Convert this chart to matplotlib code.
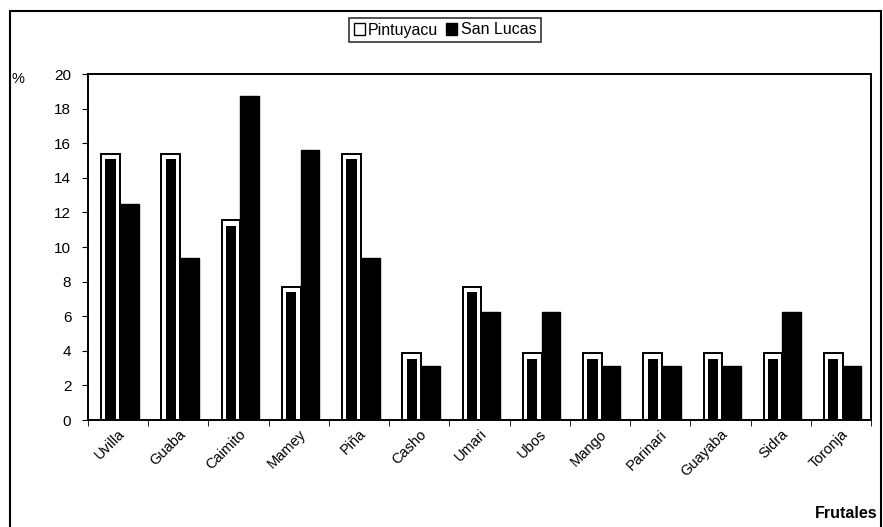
import matplotlib
matplotlib.use("Agg")
import matplotlib.pyplot as plt
import numpy as np
from matplotlib.patches import Rectangle, Patch

plt.rcParams['font.family'] = ['Liberation Sans', 'DejaVu Sans']

frutales = ["Uvilla", "Guaba", "Caimito", "Mamey", "Piña", "Casho", "Umari",
            "Ubos", "Mango", "Parinari", "Guayaba", "Sidra", "Toronja"]
pintuyacu = [15.38, 15.38, 11.54, 7.69, 15.38, 3.85, 7.69,
             3.85, 3.85, 3.85, 3.85, 3.85, 3.85]
san_lucas = [12.5, 9.375, 18.75, 15.625, 9.375, 3.125, 6.25,
             6.25, 3.125, 3.125, 3.125, 6.25, 3.125]
yticks = [0, 2, 4, 6, 8, 10, 12, 14, 16, 18, 20]

fig = plt.figure(figsize=(8.83, 5.27), dpi=100)
ax = fig.add_axes([88 / 883, 1 - 420 / 527, 783 / 883, 346 / 527])

x = np.arange(len(frutales))
w = 0.31
off = 0.03
# Pintuyacu: outlined bar with a dark core
ax.bar(x - w / 2 + off, pintuyacu, w, color="white", edgecolor="black",
       linewidth=1.4, zorder=2)
ax.bar(x - w / 2 + off, np.array(pintuyacu) - 0.3, w * 0.55, color="black",
       zorder=3)
ax.bar(x + w / 2 + off, san_lucas, w, color="black", edgecolor="black",
       linewidth=1, zorder=2)

ax.set_xlim(-0.5, len(frutales) - 0.5)
ax.set_ylim(0, 20)
ax.set_yticks(yticks)
ax.set_yticklabels([str(v) for v in yticks], fontsize=11)
ax.set_xticks(x)
ax.set_xticklabels(frutales, rotation=45, ha="right", rotation_mode="anchor",
                   fontsize=10.5)
ax.tick_params(axis="x", length=0, pad=5)
ax.set_xticks(np.arange(-0.5, len(frutales), 1), minor=True)
ax.tick_params(axis="x", which="minor", length=4, direction="out")
ax.tick_params(axis="y", length=4, direction="out", pad=8)
for s in ax.spines.values():
    s.set_linewidth(1.4)

fig.text(12 / 883, 1 - 79 / 527, "%", fontsize=10.5, va="center", ha="left")
fig.text(878 / 883, 1 - 514 / 527, "Frutales", fontsize=11.5, fontweight="bold",
         ha="right", va="center")

# legend box above the plot
handles = [Patch(facecolor="white", edgecolor="black"),
           Patch(facecolor="black", edgecolor="black")]
leg = fig.legend(handles, ["Pintuyacu", "San Lucas"], loc="center",
                 bbox_to_anchor=(445 / 883, 1 - 30 / 527), ncol=2,
                 frameon=True, fancybox=False, edgecolor="black", fontsize=11.5,
                 handlelength=0.7, handleheight=0.7, handletextpad=0.2,
                 columnspacing=0.5, borderpad=0.3, borderaxespad=0)
leg.get_frame().set_linewidth(1.2)

# outer frame
fig.patches.append(Rectangle((10 / 883, -0.01), 871 / 883, 1 - 11 / 527 + 0.01,
                             transform=fig.transFigure, fill=False,
                             edgecolor="black", linewidth=1.5))

fig.savefig("out.png", dpi=100)
